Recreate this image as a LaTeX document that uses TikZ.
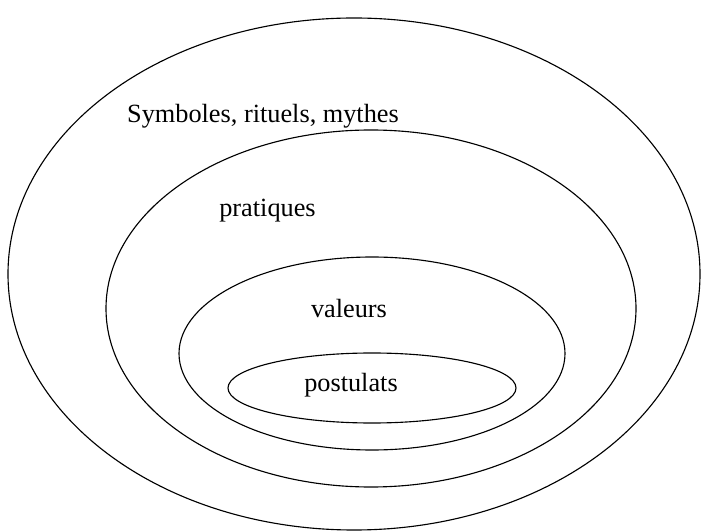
\documentclass[tikz,border=0pt]{standalone}
\usepackage{fontspec}
\setmainfont{Liberation Serif}
\tikzset{ring/.style={line width=0.8pt},
  lbl/.style={font=\fontsize{18.7}{22}\selectfont,anchor=base,inner sep=0pt}}
\begin{document}
\begin{tikzpicture}
\useasboundingbox (0,0) rectangle (17.55,13.275);
\draw[ring] (8.85,6.425) ellipse (8.65 and 6.4);
\draw[ring] (9.275,5.5625) ellipse (6.625 and 4.4625);
\draw[ring] (9.3,4.4375) ellipse (4.825 and 2.4125);
\draw[ring] (9.3,3.575) ellipse (3.6 and 0.875);
\node[lbl] (sym) at (6.575,10.2) {Symboles, rituels, mythes};
\node[lbl] (prat) at (6.6875,7.85) {pratiques};
\node[lbl] (val) at (8.725,5.325) {valeurs};
\node[lbl] (post) at (8.775,3.475) {postulats};
\end{tikzpicture}
\end{document}
